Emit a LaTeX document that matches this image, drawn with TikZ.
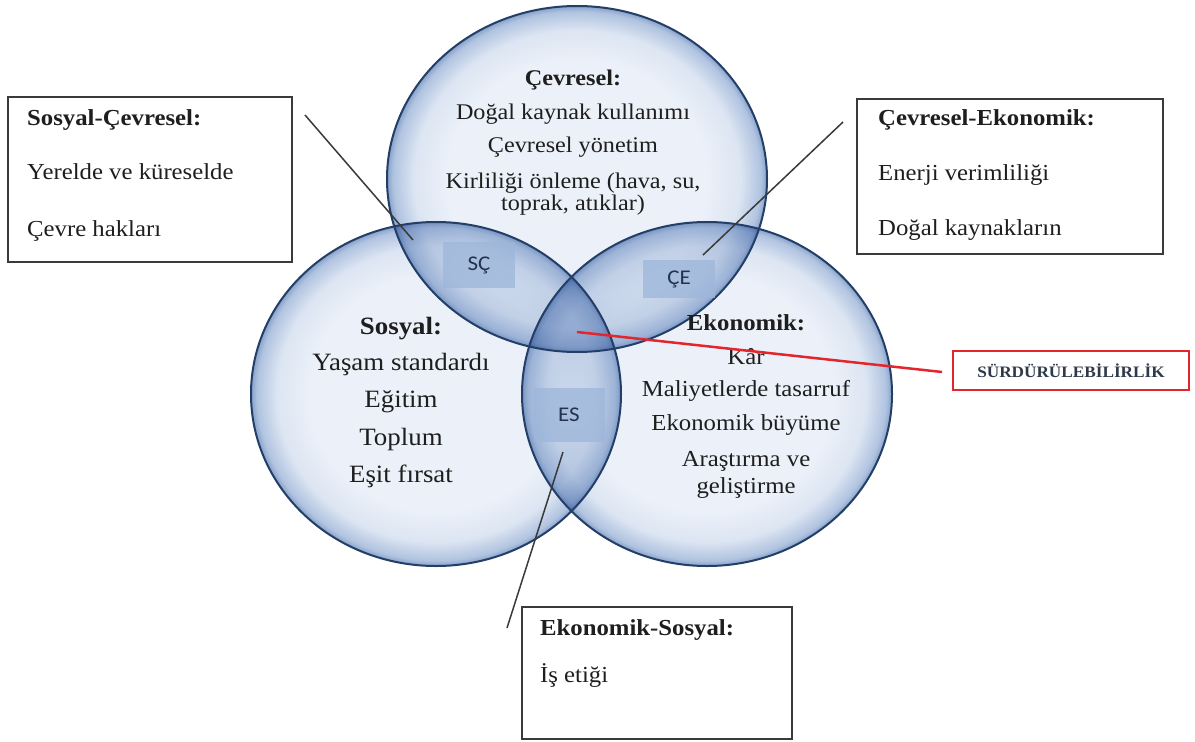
\documentclass[tikz,border=0pt]{standalone}
\usepackage{fontspec}
\setmainfont{Liberation Serif}[FakeStretch=1.08]
\newfontfamily\lblfont{Carlito}[FakeStretch=1.1]
\definecolor{vin}{HTML}{ECF1F9}
\definecolor{vmid}{HTML}{DCE5F2}
\definecolor{vrim}{HTML}{B0C3E0}
\definecolor{vout}{HTML}{88A2CA}
\definecolor{vedge}{HTML}{233F68}
\definecolor{txtgray}{HTML}{1E1E1E}
\definecolor{lblfill}{HTML}{9DB6DA}
\definecolor{lbltext}{HTML}{22324F}
\definecolor{redline}{HTML}{E3262E}
\definecolor{boxline}{HTML}{3A3A3A}
\definecolor{ovl}{HTML}{5A7DB4}
\pgfdeclareradialshading{venn}{\pgfpoint{0bp}{0bp}}{color(0bp)=(vin); color(17bp)=(vin); color(21.5bp)=(vmid); color(24.2bp)=(vrim); color(25bp)=(vout); color(50bp)=(vout)}
\begin{document}
\begin{tikzpicture}[x=1bp,y=-1bp,
  vennfill/.style={shading=venn, blend mode=multiply},
  ovfill/.style={fill=ovl, fill opacity=0.08},
  vennedge/.style={draw=vedge, line width=2bp},
  circtext/.style={inner sep=0pt, text=txtgray, text height=0.68em, text depth=0.22em},
  wraptext/.style={inner sep=0pt, text=txtgray, align=center},
  topfont/.style={font=\fontsize{22.5}{22.5}\selectfont},
  topwrap/.style={font=\fontsize{22.5}{19.5}\selectfont},
  sosfont/.style={font=\fontsize{25}{25}\selectfont},
  ekofont/.style={font=\fontsize{23}{23}\selectfont},
  ekowrap/.style={font=\fontsize{23}{27}\selectfont},
  boxtext/.style={inner sep=0pt, anchor=west, text=txtgray, text height=0.68em, text depth=0.22em, font=\fontsize{23}{23}\selectfont},
  infobox/.style={draw=boxline, line width=2bp, fill=white, inner sep=0pt},
  regionlbl/.style={fill=lblfill, fill opacity=0.75, text opacity=1, text=lbltext, inner sep=0pt,
    font=\lblfont\fontsize{21}{21}\selectfont},
  blackline/.style={draw=boxline, line width=1.5bp},
  redconn/.style={draw=redline, line width=2.5bp}
]
\useasboundingbox (0,0) rectangle (1195,742);
\fill[white] (0,0) rectangle (1195,742);

% circles
\shade[vennfill] (577,179) ellipse [x radius=190bp, y radius=173bp];
\shade[vennfill] (436,394) ellipse [x radius=185bp, y radius=172bp];
\shade[vennfill] (707,394) ellipse [x radius=185bp, y radius=172bp];

% overlaps
\begin{scope}
  \clip (577,179) ellipse [x radius=190bp, y radius=173bp];
  \fill[ovfill] (436,394) ellipse [x radius=185bp, y radius=172bp];
  \fill[ovfill] (707,394) ellipse [x radius=185bp, y radius=172bp];
\end{scope}
\begin{scope}
  \clip (436,394) ellipse [x radius=185bp, y radius=172bp];
  \fill[ovfill] (707,394) ellipse [x radius=185bp, y radius=172bp];
\end{scope}

% edges
\draw[vennedge] (577,179) ellipse [x radius=190bp, y radius=173bp];
\draw[vennedge] (436,394) ellipse [x radius=185bp, y radius=172bp];
\draw[vennedge] (707,394) ellipse [x radius=185bp, y radius=172bp];

% region labels
\node[regionlbl, minimum width=72bp, minimum height=46bp] (sc) at (479,265) {SÇ};
\node[regionlbl, minimum width=72bp, minimum height=38bp] (ce) at (679,279) {ÇE};
\node[regionlbl, minimum width=71bp, minimum height=54bp] (es) at (569,415) {ES};

% circle texts
\node[circtext, topfont] (c1) at (573,83) {\textbf{Çevresel:}};
\node[circtext, topfont] (c2) at (573,117) {Doğal kaynak kullanımı};
\node[circtext, topfont] (c3) at (573,150) {Çevresel yönetim};
\node[wraptext, topwrap] (c4) at (573,194) {Kirliliği önleme (hava, su,\\toprak, atıklar)};

\node[circtext, sosfont] (s1) at (401,332) {\textbf{Sosyal:}};
\node[circtext, sosfont] (s2) at (401,368) {Yaşam standardı};
\node[circtext, sosfont] (s3) at (401,405) {Eğitim};
\node[circtext, sosfont] (s4) at (401,443) {Toplum};
\node[circtext, sosfont] (s5) at (401,480) {Eşit fırsat};

\node[circtext, ekofont] (e1) at (746,328) {\textbf{Ekonomik:}};
\node[circtext, ekofont] (e2) at (746,362) {Kâr};
\node[circtext, ekofont] (e3) at (746,394) {Maliyetlerde tasarruf};
\node[circtext, ekofont] (e4) at (746,428) {Ekonomik büyüme};
\node[wraptext, ekowrap] (e5) at (746,475) {Araştırma ve\\geliştirme};

% info boxes
\node[infobox, minimum width=284bp, minimum height=165bp] (bsc) at (150,179.5) {};
\node[infobox, minimum width=306bp, minimum height=155bp] (bce) at (1010,176.5) {};
\node[infobox, minimum width=270bp, minimum height=132bp] (bes) at (657,673) {};
\node[draw=redline, line width=2bp, fill=white, minimum width=236bp, minimum height=39bp, inner sep=0pt,
      text={rgb,255:red,46;green,58;blue,74}, font=\bfseries\fontsize{16}{16}\selectfont] (sus) at (1071,370.5) {SÜRDÜRÜLEBİLİRLİK};

\node[boxtext] (bsc1) at (27,123) {\textbf{Sosyal-Çevresel:}};
\node[boxtext] (bsc2) at (27,177) {Yerelde ve küreselde};
\node[boxtext] (bsc3) at (27,234) {Çevre hakları};
\node[boxtext] (bce1) at (878,123) {\textbf{Çevresel-Ekonomik:}};
\node[boxtext] (bce2) at (878,178) {Enerji verimliliği};
\node[boxtext] (bce3) at (878,233) {Doğal kaynakların};
\node[boxtext] (bes1) at (540,633) {\textbf{Ekonomik-Sosyal:}};
\node[boxtext] (bes2) at (540,680) {İş etiği};

% connectors
\coordinate (scA) at (413,240);
\coordinate (scB) at (305,115);
\coordinate (ceA) at (703,255);
\coordinate (ceB) at (843,122);
\coordinate (esA) at (563,452);
\coordinate (esB) at (507,628);
\coordinate (susA) at (577,332);
\coordinate (susB) at (942,372);
\draw[blackline] (scA) -- (scB);
\draw[blackline] (ceA) -- (ceB);
\draw[blackline] (esA) -- (esB);
\draw[redconn] (susA) -- (susB);
\end{tikzpicture}
\end{document}
